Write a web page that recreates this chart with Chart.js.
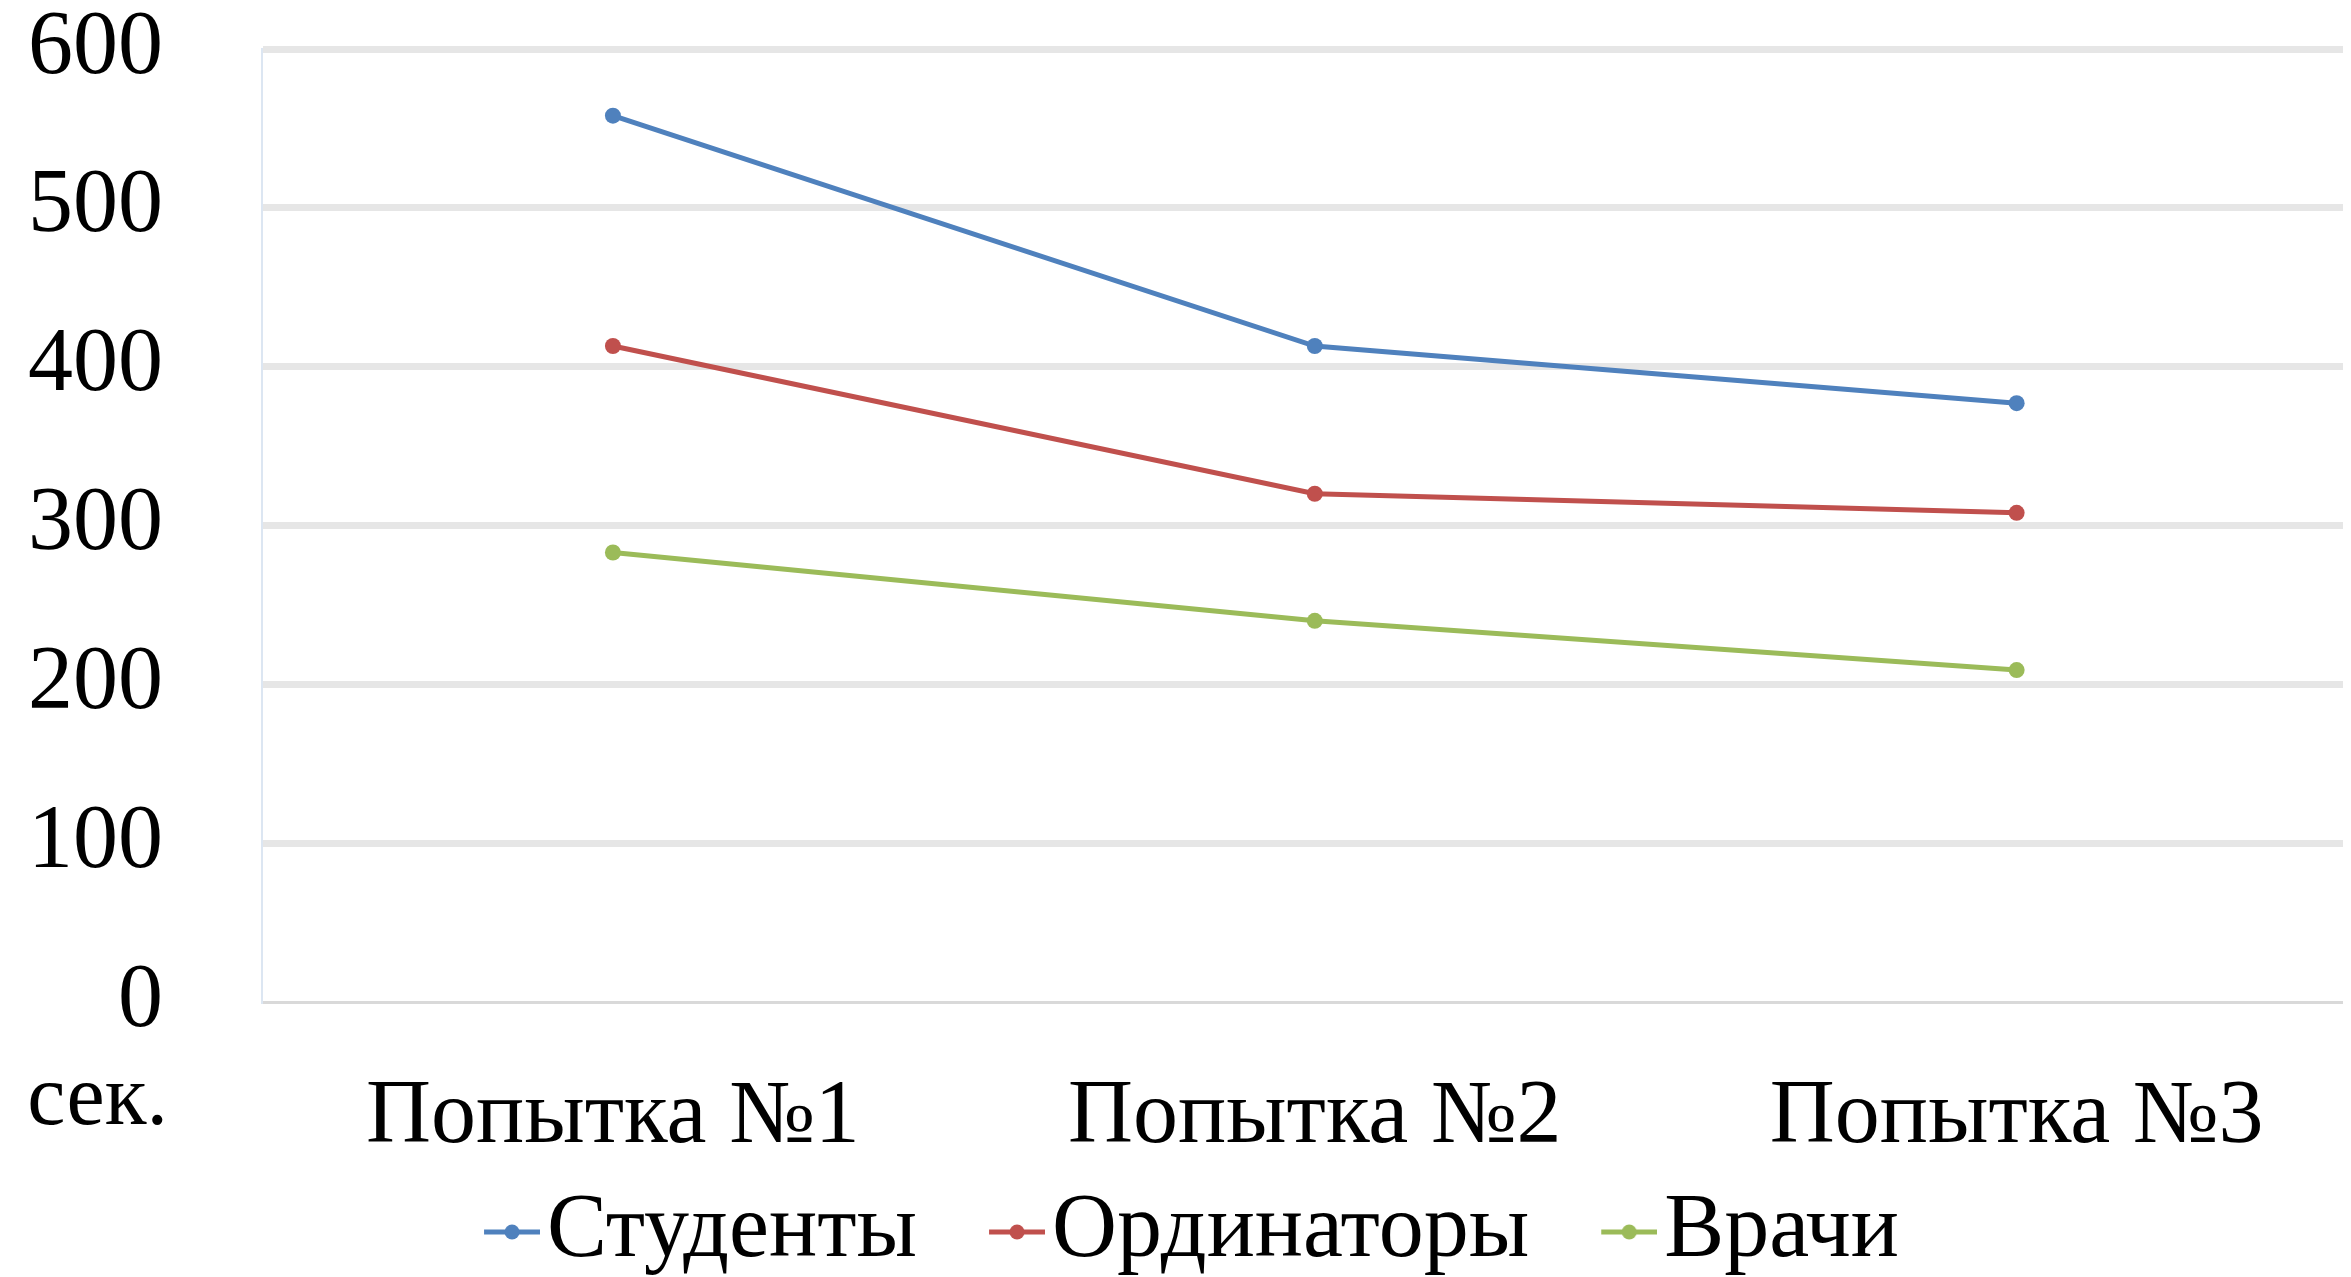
<!DOCTYPE html>
<html>
<head>
<meta charset="utf-8">
<script src="https://cdn.jsdelivr.net/npm/chart.js@4"></script>
<style>
  html, body { margin: 0; padding: 0; background: #fff; }
  #wrap { width: 2351px; height: 1277px; }
</style>
</head>
<body>
<div id="wrap"><canvas id="lineChart"></canvas></div>
<script>
const categories = ['Попытка №1', 'Попытка №2', 'Попытка №3'];
const students = [558, 413, 377];
const residents = [413, 320, 308];
const doctors = [283, 240, 209];
const seriesNames = ['Студенты', 'Ординаторы', 'Врачи'];
const yTicks = [0, 100, 200, 300, 400, 500, 600];

const FONT = "'Liberation Serif', 'DejaVu Serif', serif";
const colors = ['#4f81bd', '#c0504d', '#9bbb59'];

// category index -> x, so the last category can sit a bit past the canvas edge like the original
const toPoints = arr => arr.map((v, i) => ({ x: i, y: v }));

// legend marker: short line with a dot, on the right part of the image
function legendMarker(color) {
    const c = document.createElement('canvas');
    c.width = 126;
    c.height = 20;
    const g = c.getContext('2d');
    g.strokeStyle = color;
    g.lineWidth = 5;
    g.beginPath();
    g.moveTo(70, 10);
    g.lineTo(126, 10);
    g.stroke();
    g.fillStyle = color;
    g.beginPath();
    g.arc(98, 10, 7.5, 0, Math.PI * 2);
    g.fill();
    return c;
}
const markers = colors.map(legendMarker);

const unitLabel = {
    id: 'unitLabel',
    afterDraw(chart) {
        const ctx = chart.ctx;
        const x = chart.scales.x;
        ctx.save();
        ctx.font = '86px ' + FONT;
        ctx.fillStyle = '#000';
        ctx.textAlign = 'right';
        ctx.textBaseline = 'top';
        ctx.fillText('сек.', 168, x.top + 56);
        ctx.restore();
    }
};

const ctx = document.getElementById('lineChart').getContext('2d');
new Chart(ctx, {
    type: 'line',
    data: {
        datasets: [
            { label: seriesNames[0], data: toPoints(students), borderColor: colors[0], backgroundColor: colors[0] },
            { label: seriesNames[1], data: toPoints(residents), borderColor: colors[1], backgroundColor: colors[1] },
            { label: seriesNames[2], data: toPoints(doctors), borderColor: colors[2], backgroundColor: colors[2] }
        ]
    },
    options: {
        responsive: true,
        maintainAspectRatio: false,
        animation: false,
        events: [],
        layout: { padding: { top: 49, left: 0, right: 0, bottom: 0 } },
        elements: {
            line: { borderWidth: 5, tension: 0 },
            point: { radius: 8, borderWidth: 0 }
        },
        scales: {
            x: {
                type: 'linear',
                min: -0.5,
                max: 2.465,
                afterBuildTicks(s) { s.ticks = categories.map((c, i) => ({ value: i })); },
                grid: { display: false },
                border: { display: false },
                ticks: {
                    padding: 54,
                    color: '#000',
                    font: { family: FONT, size: 90 },
                    maxRotation: 0,
                    callback: v => categories[v]
                },
                afterFit(s) {
                    s.height = 145;
                    s.paddingLeft = 0;
                    s.paddingRight = 0;
                }
            },
            y: {
                min: 0,
                max: 600,
                afterBuildTicks(s) { s.ticks = yTicks.map(v => ({ value: v })); },
                grid: {
                    drawTicks: false,
                    color: c => c.tick && c.tick.value === 0 ? '#d9d9d9' : '#e6e6e6',
                    lineWidth: c => c.tick && c.tick.value === 0 ? 3 : 7
                },
                border: { display: true, color: '#dce6f2', width: 2 },
                ticks: {
                    padding: 99,
                    color: '#000',
                    font: { family: FONT, size: 90 }
                },
                afterFit(s) {
                    s.width = 262;
                    s.paddingTop = 0;
                    s.paddingBottom = 0;
                }
            }
        },
        plugins: {
            tooltip: { enabled: false },
            legend: {
                position: 'bottom',
                maxHeight: 130,
                labels: {
                    usePointStyle: true,
                    pointStyleWidth: 50,
                    padding: 40,
                    color: '#000',
                    font: { family: FONT, size: 90 },
                    generateLabels(chart) {
                        const items = Chart.defaults.plugins.legend.labels.generateLabels(chart);
                        items.forEach((it, i) => { it.pointStyle = markers[i]; });
                        return items;
                    }
                }
            }
        }
    },
    plugins: [unitLabel]
});
</script>
</body>
</html>
